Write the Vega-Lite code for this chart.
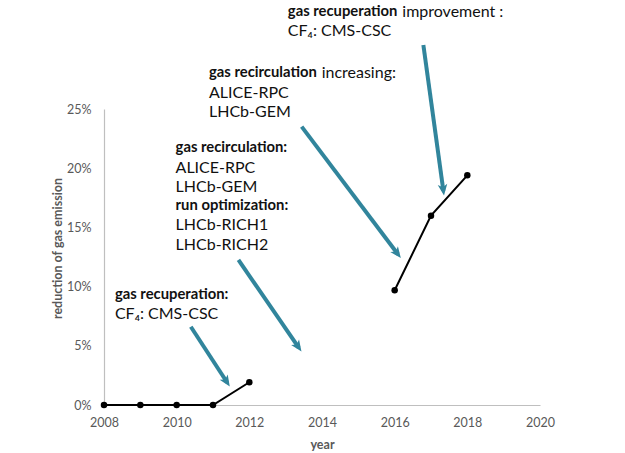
{
  "$schema": "https://vega.github.io/schema/vega-lite/v6.json",
  "autosize": "none",
  "width": 436,
  "height": 296,
  "padding": {"left": 104, "top": 109, "right": 85, "bottom": 48},
  "background": "white",
  "config": {
    "view": {"stroke": null},
    "font": "Lato",
    "text": {"font": "Lato"}
  },
  "datasets": {
    "emission": [
      {"year": 2008, "value": 0, "seg": "a"},
      {"year": 2009, "value": 0, "seg": "a"},
      {"year": 2010, "value": 0, "seg": "a"},
      {"year": 2011, "value": 0, "seg": "a"},
      {"year": 2012, "value": 0.0192, "seg": "a"},
      {"year": 2016, "value": 0.0969, "seg": "b"},
      {"year": 2017, "value": 0.1599, "seg": "b"},
      {"year": 2018, "value": 0.194, "seg": "b"}
    ],
    "arrows": [
      {"x": 2010.39, "y": 0.0661, "x2": 2011.39, "y2": 0.019, "heading": 147},
      {"x": 2011.7, "y": 0.1225, "x2": 2013.36, "y2": 0.0485, "heading": 145.3},
      {"x": 2013.44, "y": 0.2351, "x2": 2016.09, "y2": 0.1273, "heading": 143},
      {"x": 2016.79, "y": 0.3041, "x2": 2017.34, "y2": 0.181, "heading": 172.2}
    ],
    "boldLabels": [
      {"x": 2008.3, "y": 0.0929, "text": "gas recuperation:"},
      {"x": 2009.97, "y": 0.2168, "text": "gas recirculation:"},
      {"x": 2009.97, "y": 0.1681, "text": "run optimization:"},
      {"x": 2010.89, "y": 0.2801, "text": "gas recirculation"},
      {"x": 2013.06, "y": 0.3322, "text": "gas recuperation"}
    ],
    "plainLabels": [
      {"x": 2008.3, "y": 0.0769, "text": "CF₄: CMS-CSC"},
      {"x": 2009.97, "y": 0.2004, "text": "ALICE-RPC"},
      {"x": 2009.97, "y": 0.1844, "text": "LHCb-GEM"},
      {"x": 2009.97, "y": 0.152, "text": "LHCb-RICH1"},
      {"x": 2009.97, "y": 0.1351, "text": "LHCb-RICH2"},
      {"x": 2013.99, "y": 0.2801, "text": "increasing:"},
      {"x": 2010.89, "y": 0.2638, "text": "ALICE-RPC"},
      {"x": 2010.89, "y": 0.2475, "text": "LHCb-GEM"},
      {"x": 2016.21, "y": 0.3322, "text": "improvement :"},
      {"x": 2013.06, "y": 0.3161, "text": "CF₄: CMS-CSC"}
    ]
  },
  "layer": [
    {
      "data": {"name": "emission"},
      "mark": {"type": "line", "color": "black", "strokeWidth": 2},
      "encoding": {
        "x": {
          "field": "year", "type": "quantitative", "title": "year",
          "scale": {"domain": [2008, 2020], "nice": false, "zero": false},
          "axis": {
            "values": [2008, 2010, 2012, 2014, 2016, 2018, 2020], "format": "d",
            "grid": false, "ticks": false, "domainColor": "#BFBFBF", "domainWidth": 1.2,
            "labelFlush": false, "labelOverlap": false,
            "labelColor": "#595959", "labelFontSize": 12.5, "labelPadding": 11,
            "titleColor": "#595959", "titleFontSize": 12.5, "titleFontWeight": "bold", "titlePadding": 10
          }
        },
        "y": {
          "field": "value", "type": "quantitative", "title": "reduction of gas emission",
          "scale": {"domain": [0, 0.25], "nice": false},
          "axis": {
            "values": [0, 0.05, 0.1, 0.15, 0.2, 0.25], "format": ".0%",
            "grid": false, "ticks": false, "domainColor": "#BFBFBF", "domainWidth": 1.2,
            "labelFlush": false, "labelOverlap": false,
            "labelColor": "#595959", "labelFontSize": 12.5, "labelPadding": 13,
            "titleColor": "#595959", "titleFontSize": 12.5, "titleFontWeight": "bold",
            "titleX": -46.5, "titleY": 139, "titleBaseline": "middle", "titleAngle": -90, "titleAlign": "center"
          }
        },
        "detail": {"field": "seg"}
      }
    },
    {
      "data": {"name": "emission"},
      "mark": {"type": "point", "filled": true, "color": "black", "size": 42, "opacity": 1},
      "encoding": {
        "x": {"field": "year", "type": "quantitative", "title": "year"},
        "y": {"field": "value", "type": "quantitative", "title": "reduction of gas emission"}
      }
    },
    {
      "data": {"name": "arrows"},
      "mark": {"type": "rule", "color": "#31859C", "strokeWidth": 4},
      "encoding": {
        "x": {"field": "x", "type": "quantitative", "title": "year"},
        "y": {"field": "y", "type": "quantitative", "title": "reduction of gas emission"},
        "x2": {"field": "x2"},
        "y2": {"field": "y2"}
      }
    },
    {
      "data": {"name": "arrows"},
      "mark": {"type": "point", "filled": true, "color": "#31859C", "opacity": 1, "size": 256, "strokeWidth": 0,
               "shape": "M0,-0.6L0.6,0.8L0,0.45L-0.6,0.8Z"},
      "encoding": {
        "x": {"field": "x2", "type": "quantitative", "title": "year"},
        "y": {"field": "y2", "type": "quantitative", "title": "reduction of gas emission"},
        "angle": {"field": "heading", "type": "quantitative", "scale": null}
      }
    },
    {
      "data": {"name": "boldLabels"},
      "mark": {"type": "text", "align": "left", "baseline": "middle", "fontSize": 14.8, "fontWeight": "bold", "color": "#111111"},
      "encoding": {
        "x": {"field": "x", "type": "quantitative", "title": "year"},
        "y": {"field": "y", "type": "quantitative", "title": "reduction of gas emission"},
        "text": {"field": "text"}
      }
    },
    {
      "data": {"name": "plainLabels"},
      "mark": {"type": "text", "align": "left", "baseline": "middle", "fontSize": 16, "color": "#111111"},
      "encoding": {
        "x": {"field": "x", "type": "quantitative", "title": "year"},
        "y": {"field": "y", "type": "quantitative", "title": "reduction of gas emission"},
        "text": {"field": "text"}
      }
    }
  ]
}
